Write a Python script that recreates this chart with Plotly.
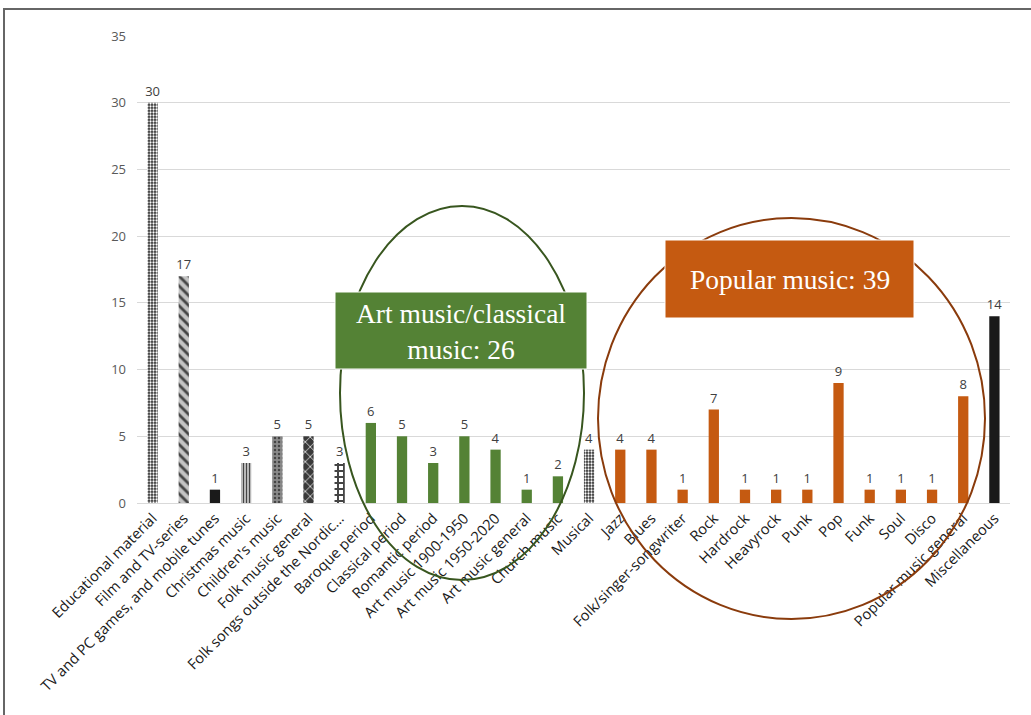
import plotly.graph_objects as go

# Number of titles per music category
categories = [
    "Educational material", "Film and TV-series", "TV and PC games, and mobile tunes",
    "Christmas music", "Children's music", "Folk music general",
    "Folk songs outside the Nordic...", "Baroque period", "Classical period",
    "Romantic period", "Art music 1900-1950", "Art music 1950-2020",
    "Art music general", "Church music", "Musical", "Jazz", "Blues",
    "Folk/singer-songwriter", "Rock", "Hardrock", "Heavyrock", "Punk", "Pop",
    "Funk", "Soul", "Disco", "Popular music general", "Miscellaneous",
]
values = [30, 17, 1, 3, 5, 5, 3, 6, 5, 3, 5, 4, 1, 2, 4, 4, 4, 1, 7, 1, 1, 1, 9, 1, 1, 1, 8, 14]

# Bar styling: (background colour, pattern shape, pattern colour, pattern size, solidity)
bar_styles = [
    ("#303030", ".", "#f0f0f0", 3, 0.45),  # Educational material
    ("#c4c4c4", "\\", "#111111", 7, 0.4),  # Film and TV-series
    ("#1a1a1a", "", "#1a1a1a", 8, 0.3),    # TV and PC games
    ("#d0d0d0", "|", "#1a1a1a", 3, 0.45),  # Christmas music
    ("#8a8a8a", ".", "#3a3a3a", 4, 0.3),   # Children's music
    ("#3a3a3a", "x", "#e8e8e8", 7, 0.2),   # Folk music general
    ("#ffffff", "+", "#111111", 6, 0.55),  # Folk songs outside the Nordic
] + [("#548235", "", "#548235", 8, 0.3)] * 7 + [
    ("#303030", ".", "#f0f0f0", 3, 0.45),  # Musical
] + [("#c55a11", "", "#c55a11", 8, 0.3)] * 12 + [
    ("#1a1a1a", "", "#1a1a1a", 8, 0.3),    # Miscellaneous
]

x_idx = list(range(len(categories)))

fig = go.Figure(go.Bar(
    x=x_idx,
    y=values,
    width=0.33,
    marker=dict(
        color=[s[0] for s in bar_styles],
        line=dict(width=0),
        pattern=dict(
            shape=[s[1] for s in bar_styles],
            fgcolor=[s[2] for s in bar_styles],
            size=[s[3] for s in bar_styles],
            solidity=[s[4] for s in bar_styles],
            fgopacity=1,
            fillmode="overlay",
        ),
    ),
    text=[str(v) for v in values],
    textposition="outside",
    constraintext="none",
    textfont=dict(family="Open Sans", size=13, color="#404040"),
    cliponaxis=False,
    showlegend=False,
))

W, H = 1031, 715
L, R, T, B = 137, 21, 36, 212
pw, ph = W - L - R, H - T - B


def px(x):
    return (x - L) / pw


def py(y):
    return (H - B - y) / ph


shapes = [
    # page frame
    dict(type="rect", xref="paper", yref="paper",
         x0=px(4), x1=px(1040), y0=py(760), y1=py(9),
         line=dict(color="#666666", width=2), layer="below"),
    # group outlines
    dict(type="circle", xref="paper", yref="paper",
         x0=px(340), x1=px(584), y0=py(580), y1=py(206),
         line=dict(color="#38561f", width=2), layer="above"),
    dict(type="circle", xref="paper", yref="paper",
         x0=px(598), x1=px(985), y0=py(619), y1=py(218),
         line=dict(color="#8a3b0c", width=2), layer="above"),
    # group label boxes
    dict(type="rect", xref="paper", yref="paper",
         x0=px(335), x1=px(587), y0=py(369), y1=py(292),
         fillcolor="#548235", line=dict(color="#ffffff", width=1), layer="above"),
    dict(type="rect", xref="paper", yref="paper",
         x0=px(665), x1=px(914), y0=py(318), y1=py(240),
         fillcolor="#c55a11", line=dict(color="#ffffff", width=1), layer="above"),
]

annotations = [
    dict(xref="paper", yref="paper", x=px(461), y=py(331),
         text="Art music/classical<br>music: 26", showarrow=False,
         font=dict(family="Liberation Serif", size=27.5, color="#ffffff"),
         xanchor="center", yanchor="middle"),
    dict(xref="paper", yref="paper", x=px(789.5), y=py(279),
         text="Popular music: 39", showarrow=False,
         font=dict(family="Liberation Serif", size=27.5, color="#ffffff"),
         xanchor="center", yanchor="middle"),
]

fig.update_layout(
    width=W, height=H,
    margin=dict(l=L, r=R, t=T, b=B),
    paper_bgcolor="#ffffff",
    plot_bgcolor="#ffffff",
    shapes=shapes,
    annotations=annotations,
)

fig.update_xaxes(
    tickmode="array", tickvals=x_idx, ticktext=categories,
    tickangle=-45,
    tickfont=dict(family="Open Sans", size=14.7, color="#1a1a1a"),
    range=[-0.5, len(categories) - 0.5],
    showgrid=False, zeroline=False,
    showline=True, linecolor="#d9d9d9", linewidth=1,
    ticks="",
)
fig.update_yaxes(
    range=[0, 35], tickmode="linear", tick0=0, dtick=5,
    tickfont=dict(family="Open Sans", size=13, color="#595959"),
    showgrid=True, gridcolor="#d9d9d9", gridwidth=1,
    zeroline=False, showline=False, ticks="",
    ticklabelstandoff=10,
)

fig.write_html("out.html")
